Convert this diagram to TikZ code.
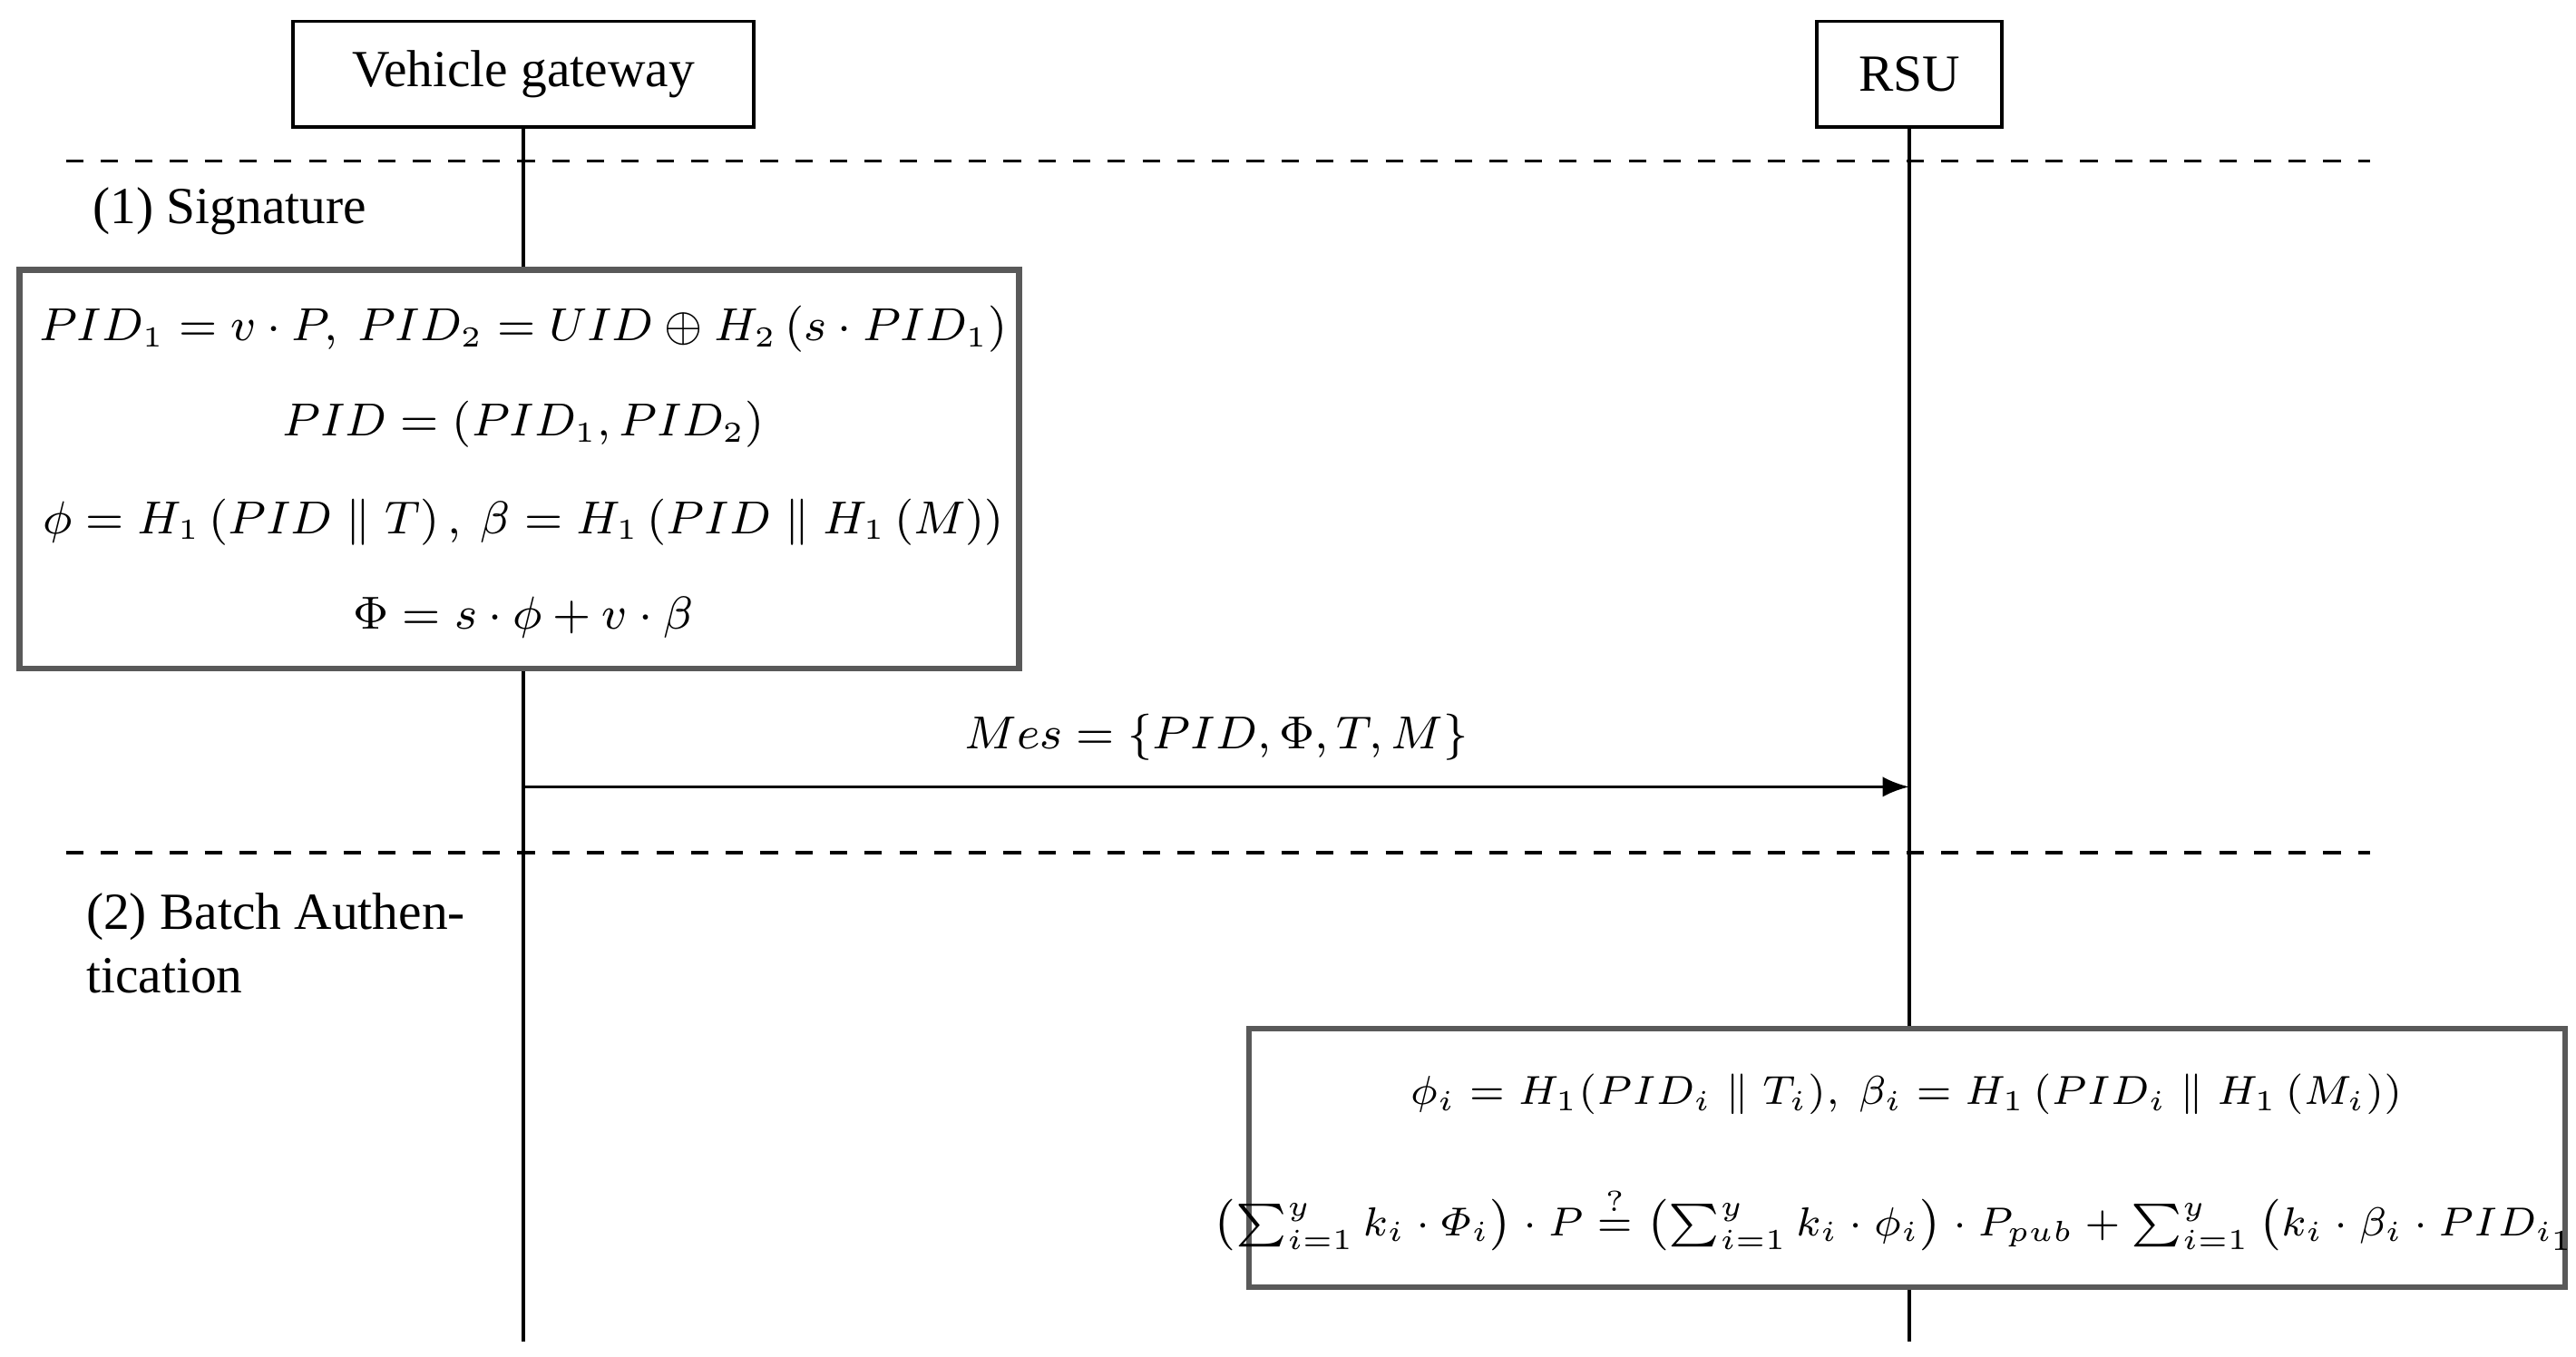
\documentclass[tikz,border=0pt]{standalone}
\usepackage{amsmath}
\usepackage{fontspec}
\setmainfont{Liberation Serif}
\begin{document}
\begin{tikzpicture}[x=0.01cm,y=-0.01cm,font=\fontsize{9}{11}\selectfont,
  actor/.style={draw,line width=0.6pt,minimum height=0.64cm,inner sep=0pt},
  mbox/.style={draw=black!65,fill=white,line width=1pt,inner sep=0pt},
  eq/.style={font=\fontsize{7.8}{9}\selectfont},
  eqs/.style={font=\fontsize{7.4}{9}\selectfont},
  life/.style={line width=0.6pt},
  sepline/.style={dashed,line width=0.5pt}]
\useasboundingbox (0,0) rectangle (1565,824);
\node[actor,minimum width=2.8cm] (vg) at (318,45) {Vehicle gateway};
\node[actor,minimum width=1.12cm] (rsu) at (1160,45) {RSU};
\coordinate (vgend) at (318,815);
\coordinate (rsuend) at (1160,815);
\draw[life] (vg.south) -- (vgend);
\draw[life] (rsu.south) -- (rsuend);
\coordinate (d1a) at (40,98); \coordinate (d1b) at (1440,98);
\coordinate (d2a) at (40,518); \coordinate (d2b) at (1440,518);
\draw[sepline] (d1a) -- (d1b);
\draw[sepline] (d2a) -- (d2b);
\node[anchor=west] (s1) at (44,128) {(1) Signature};
\node[anchor=north west,align=left] (s2) at (40,530) {(2) Batch Authen-\\tication};
\node[mbox,minimum width=6.07cm,minimum height=2.42cm] (b1) at (315.5,285) {};
\node[eq] (e1) at (318,200) {$PID_1=v\cdot P,\ PID_2=UID\oplus H_2\left(s\cdot PID_1\right)$};
\node[eq] (e2) at (318,258) {$PID=\left(PID_1,PID_2\right)$};
\node[eq] (e3) at (318,317) {$\phi=H_1\left(PID\parallel T\right),\ \beta=H_1\left(PID\parallel H_1\left(M\right)\right)$};
\node[eq] (e4) at (318,375) {$\Phi=s\cdot\phi+v\cdot\beta$};
\coordinate (a1) at (318,478); \coordinate (a2) at (1160,478);
\draw[-latex,line width=0.6pt] (a1) -- node[above=1pt,eq] (ml) {$Mes=\left\{PID,\Phi,T,M\right\}$} (a2);
\node[mbox,minimum width=7.99cm,minimum height=1.57cm] (b2) at (1158.5,703.5) {};
\node[eqs] (f1) at (1158,665) {$\phi_i=H_1(PID_i\parallel T_i),\ \beta_i=H_1\left(PID_i\parallel H_1\left(M_i\right)\right)$};
\node[eqs] (f2) at (1158,740) {$\left(\sum\nolimits_{i=1}^{y}k_i\cdot\varPhi_i\right)\cdot P\overset{?}{=}\left(\sum\nolimits_{i=1}^{y}k_i\cdot\phi_i\right)\cdot P_{pub}+\sum\nolimits_{i=1}^{y}\left(k_i\cdot\beta_i\cdot PID_{i_1}\right)$};
\end{tikzpicture}
\end{document}
